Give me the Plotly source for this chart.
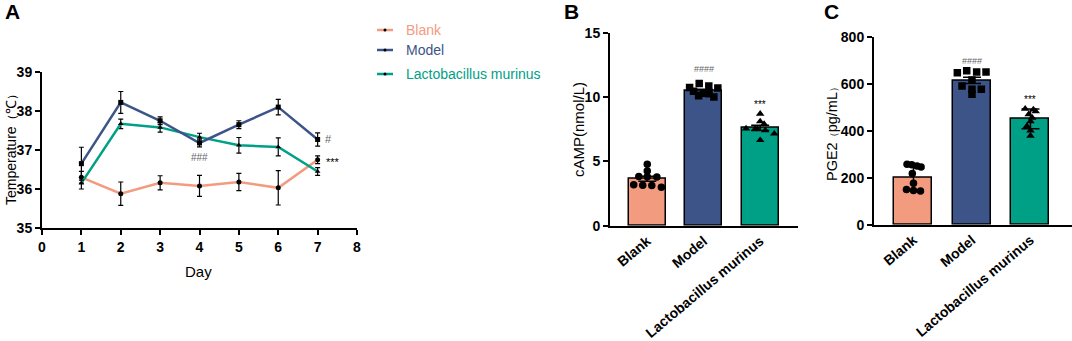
import plotly.graph_objects as go

# ---------------- data ----------------
groups = ["Blank", "Model", "Lactobacillus murinus"]
colors = ["#F39B7F", "#3C5488", "#00A087"]

days = [1, 2, 3, 4, 5, 6, 7]
temp_blank = [36.30, 35.88, 36.16, 36.08, 36.18, 36.03, 36.75]
temp_blank_err = [0.15, 0.30, 0.18, 0.27, 0.22, 0.44, 0.10]
temp_model = [36.65, 38.22, 37.75, 37.18, 37.65, 38.10, 37.27]
temp_model_err = [0.42, 0.28, 0.10, 0.10, 0.10, 0.20, 0.17]
temp_lacto = [36.15, 37.67, 37.58, 37.33, 37.12, 37.08, 36.45]
temp_lacto_err = [0.15, 0.12, 0.12, 0.10, 0.20, 0.23, 0.10]

camp_mean = [3.65, 10.49, 7.60]
camp_err = [0.20, 0.12, 0.20]
camp_blank = [4.77, 4.25, 3.82, 3.80, 3.78, 3.18, 3.14, 3.12, 2.98]
camp_model = [11.05, 10.85, 10.75, 10.70, 10.45, 10.30, 10.25, 10.10, 10.00]
camp_lacto = [8.70, 8.10, 7.90, 7.55, 7.50, 7.50, 7.40, 7.15, 6.65]

pge2_mean = [200, 614, 450]
pge2_err = [52, 13, 42]
pge2_blank = [257, 255, 250, 245, 218, 176, 150, 145, 143]
pge2_model = [647, 655, 650, 650, 616, 590, 576, 576, 555]
pge2_lacto = [493, 490, 482, 470, 455, 440, 420, 400, 378]

temp_ticks = [35, 36, 37, 38, 39]
day_ticks = [0, 1, 2, 3, 4, 5, 6, 7, 8]
camp_ticks = [0, 5, 10, 15]
pge2_ticks = [0, 200, 400, 600, 800]

# ---------------- styling constants (positions of dots within bars) ----------------
JIT_B = [
    [0.0, 0.0, -0.15, 0.0, 0.17, -0.24, -0.08, 0.08, 0.25],
    [-0.08, 0.09, -0.25, 0.25, -0.18, 0.0, 0.09, -0.09, 0.18],
    [0.0, 0.0, 0.07, -0.25, -0.09, -0.05, 0.09, 0.25, 0.0],
]
JIT_C = [
    [-0.11, -0.03, 0.06, 0.13, -0.02, 0.0, -0.12, 0.0, 0.12],
    [-0.25, -0.09, 0.08, 0.24, 0.0, -0.17, 0.16, 0.0, 0.0],
    [-0.09, 0.05, 0.09, -0.03, 0.03, 0.0, -0.06, 0.0, 0.0],
]
W, H = 1072, 341
FONT = "Liberation Sans, Arial, sans-serif"


def px(x):
    return x / W


def py(y):
    return 1 - y / H


fig = go.Figure()

# ---------------- Panel A ----------------
temps = [temp_blank, temp_model, temp_lacto]
terrs = [temp_blank_err, temp_model_err, temp_lacto_err]
syms = ["circle", "square", "triangle-up"]
for i in [0, 2, 1]:
    fig.add_trace(go.Scatter(
        x=days, y=temps[i], mode="lines+markers",
        line=dict(color=colors[i], width=2.5),
        marker=dict(symbol=syms[i], size=5, color="black"),
        error_y=dict(type="data", array=terrs[i], color="black", thickness=1.2, width=2.5),
        xaxis="x", yaxis="y", showlegend=False, name=groups[i]))

# ---------------- Panel B & C ----------------
def bar_panel(means, errs, pts, jit, xa, ya):
    fig.add_trace(go.Bar(
        x=[0, 1, 2], y=means, width=0.65,
        marker=dict(color=colors, line=dict(color="black", width=1.5)),
        error_y=dict(type="data", array=errs, color="black", thickness=1.5, width=9),
        xaxis=xa, yaxis=ya, showlegend=False))
    for i in range(3):
        fig.add_trace(go.Scatter(
            x=[i + j for j in jit[i]], y=pts[i], mode="markers",
            marker=dict(symbol=syms[i], size=7.5, color="black"),
            xaxis=xa, yaxis=ya, showlegend=False))


bar_panel(camp_mean, camp_err, [camp_blank, camp_model, camp_lacto], JIT_B, "x2", "y2")
bar_panel(pge2_mean, pge2_err, [pge2_blank, pge2_model, pge2_lacto], JIT_C, "x3", "y3")

axis_common = dict(showline=True, linecolor="black", linewidth=2, showgrid=False,
                   zeroline=False, ticks="outside", ticklen=5, tickwidth=2, tickcolor="black",
                   automargin=False,
                   tickfont=dict(family=FONT, size=14, color="black", weight="bold"))

fig.update_layout(
    width=W, height=H, margin=dict(l=0, r=0, t=0, b=0, autoexpand=False),
    paper_bgcolor="white", plot_bgcolor="white",
    font=dict(family=FONT, color="black"),
    bargap=0,
    xaxis=dict(domain=[px(42), px(357)], range=[0, 8], tickvals=day_ticks,
               anchor="y", **axis_common),
    yaxis=dict(domain=[py(228), py(72)], range=[35, 39], tickvals=temp_ticks,
               anchor="x", **axis_common),
    xaxis2=dict(domain=[px(610), px(798)], range=[-0.66, 2.67], tickvals=[0, 1, 2],
                ticktext=groups, tickangle=-40, anchor="y2",
                **{**axis_common, "ticks": ""}),
    yaxis2=dict(domain=[py(225.7), py(32.7)], range=[0, 15], tickvals=camp_ticks,
                anchor="x2", **axis_common),
    xaxis3=dict(domain=[px(874), px(1072)], range=[-0.675, 2.71], tickvals=[0, 1, 2],
                ticktext=groups, tickangle=-40, anchor="y3",
                **{**axis_common, "ticks": ""}),
    yaxis3=dict(domain=[py(224.7), py(36.7)], range=[0, 800], tickvals=pge2_ticks,
                anchor="x3", **axis_common),
)

ann = []


def pann(text, x, y, **kw):
    d = dict(text=text, x=px(x), y=py(y), xref="paper", yref="paper", showarrow=False,
             xanchor="center", yanchor="middle")
    d.update(kw)
    ann.append(d)


def small(ch, size):
    return "<span style='font-size:%dpx'>%s</span>" % (size, ch)


# panel letters
for txt, x in [("A", 12), ("B", 571), ("C", 831)]:
    pann(txt, x, 12, font=dict(size=21, family=FONT, weight="bold", color="black"))
# axis titles
pann("Temperature" + small("（", 12) + "℃" + small("）", 12), 11, 147, textangle=-90,
     font=dict(size=14, family=FONT))
pann("Day", 198, 271, font=dict(size=15, family=FONT))
pann("cAMP(nmol/L)", 578, 130, textangle=-90, font=dict(size=15, family=FONT))
pann("PGE2" + small("（", 10) + "pg/mL" + small("）", 10), 832, 132, textangle=-90,
     font=dict(size=14.5, family=FONT))

# significance marks
grey = "#666666"
for text, x, y, xr, yr, size, col in [
    ("###", 4, 36.82, "x", "y", 10, grey),
    ("#", 7.27, 37.27, "x", "y", 11, grey),
    ("***", 7.38, 36.70, "x", "y", 11, "black"),
    ("####", 1, 12.2, "x2", "y2", 9, grey),
    ("***", 2, 9.45, "x2", "y2", 10, "black"),
    ("####", 1, 698, "x3", "y3", 9, grey),
    ("***", 2, 532, "x3", "y3", 10, "black"),
]:
    ann.append(dict(text=text, x=x, y=y, xref=xr, yref=yr, showarrow=False,
                    xanchor="center", yanchor="middle",
                    font=dict(size=size, color=col, family=FONT)))

# legend
legend_y = [30, 50, 74]
shapes = []
for i in range(3):
    y = legend_y[i]
    shapes.append(dict(type="line", xref="paper", yref="paper", x0=px(377), x1=px(393),
                       y0=py(y), y1=py(y), line=dict(color=colors[i], width=2.5)))
    shapes.append(dict(type="circle", xref="paper", yref="paper", x0=px(383.5), x1=px(386.5),
                       y0=py(y + 1.5), y1=py(y - 1.5), fillcolor="black", line=dict(width=0)))
    pann(groups[i], 404, y, xanchor="left", font=dict(size=14, family=FONT, color=colors[i]))

fig.update_layout(annotations=ann, shapes=shapes)
fig.write_html("out.html", config={"displayModeBar": False},
               post_script="document.body.style.margin='0px';document.body.style.overflow='hidden';")
